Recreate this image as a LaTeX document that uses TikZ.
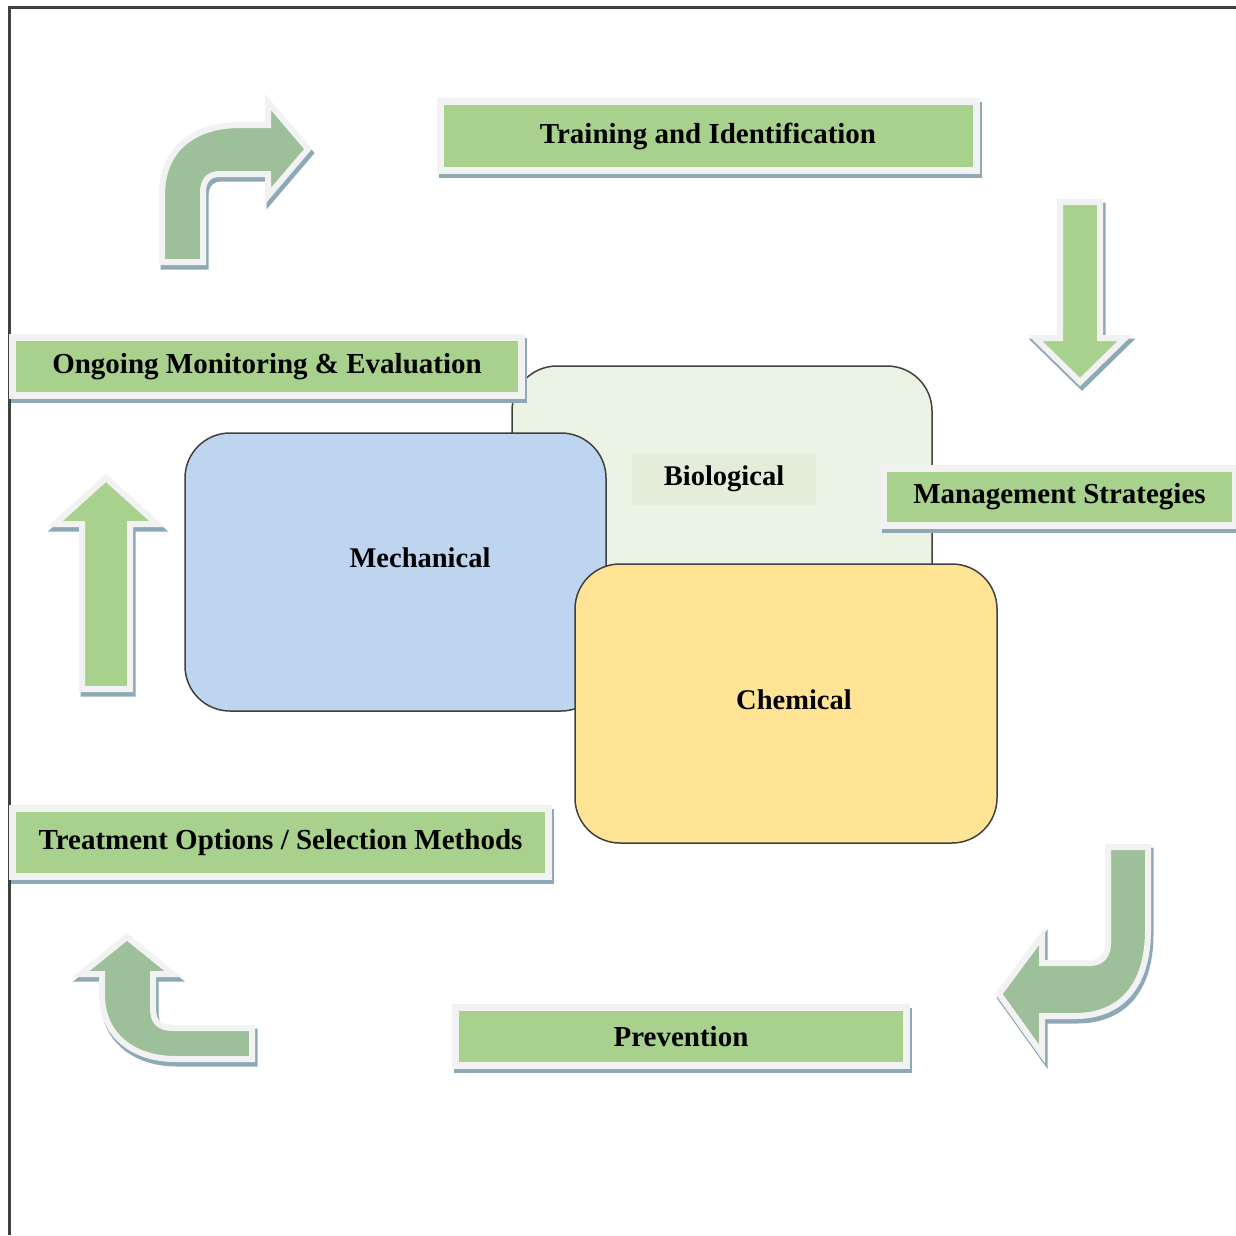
\documentclass[tikz,border=0pt]{standalone}
\usepackage{fontspec}
\setmainfont{Liberation Serif}
\usetikzlibrary{positioning}

\definecolor{boxgreen}{HTML}{A9D18E}
\definecolor{sage}{HTML}{9DBF9A}
\definecolor{rimgray}{HTML}{F2F2F2}
\definecolor{shadowblue}{HTML}{8EA9B6}
\definecolor{biofill}{HTML}{EBF3E4}
\definecolor{biopatch}{HTML}{E3EDD9}
\definecolor{mechfill}{HTML}{BDD5EE}
\definecolor{chemfill}{HTML}{FFE496}
\definecolor{edgegray}{HTML}{404040}

\begin{document}
\begin{tikzpicture}[x=1pt, y=-1pt,
  shade/.style={preaction={draw=shadowblue, fill=shadowblue, line width=7pt,
      transform canvas={shift={(2pt,-4pt)}}}},
  stagebox/.style={shade, draw=rimgray, line width=7pt, fill=boxgreen,
      inner sep=0pt, font=\fontsize{29}{33}\selectfont\bfseries},
  zone/.style={draw=edgegray, line width=1.5pt, rounded corners=45pt, inner sep=0pt},
  zonetext/.style={inner sep=0pt, font=\fontsize{28.5}{33}\selectfont\bfseries},
  blockarrow/.style={shade, draw=rimgray, line width=6pt, line join=miter}]
  \useasboundingbox (0,0) rectangle (1236,1235);
  \draw[edgegray, line width=3pt] (9,1235) -- (9,7) -- (1236,7);

  % the three overlapping areas
  \node[zone, fill=biofill, minimum width=420pt, minimum height=274pt] (bio) at (722,503) {};
  \node[zonetext, fill=biopatch, minimum width=184pt, minimum height=52pt] (biotext) at (724,479) {Biological};
  \node[zone, fill=mechfill, minimum width=421pt, minimum height=278pt] (mech) at (395.5,572) {};
  \node[zonetext] (mechtext) at (420,558) {Mechanical};
  \node[zone, fill=chemfill, minimum width=422pt, minimum height=279pt] (chem) at (786,703.5) {};
  \node[zonetext] (chemtext) at (794,700) {Chemical};

  % cycle stages
  \node[stagebox, minimum width=536pt, minimum height=69pt] (train) at (708,136) {Training and Identification};
  \node[stagebox, minimum width=352pt, minimum height=57pt] (manage) at (1059.5,497) {Management Strategies};
  \node[stagebox, minimum width=451pt, minimum height=58pt] (prevent) at (681,1036.5) {Prevention};
  \node[stagebox, minimum width=536pt, minimum height=68pt] (treat) at (280.5,842.5) {Treatment Options / Selection Methods};
  \node[stagebox, minimum width=509pt, minimum height=58pt] (monitor) at (267,366.5) {Ongoing Monitoring \& Evaluation};

  % block arrows between the stages
  \draw[blockarrow, fill=sage] (162,262) -- (162,195) .. controls (162,148) and (195,125) .. (240,125)
    -- (268,125) -- (268,102) -- (308,149) -- (268,196) -- (268,174) -- (220,174)
    .. controls (208,174) and (203,181) .. (203,193) -- (203,262) -- cycle;
  \draw[blockarrow, fill=boxgreen] (1060,202) -- (1100,202) -- (1100,338) -- (1125,338)
    -- (1080,382) -- (1035,338) -- (1060,338) -- cycle;
  \draw[blockarrow, fill=sage] (1108,847) -- (1148,847) -- (1148,930)
    .. controls (1148,987) and (1120,1016) .. (1075,1016) -- (1042,1016) -- (1042,1054)
    -- (999,994) -- (1042,936) -- (1042,963) -- (1090,963)
    .. controls (1102,963) and (1108,955) .. (1108,943) -- cycle;
  \draw[blockarrow, fill=sage] (127,937) -- (173,974) -- (153,974) -- (153,1008)
    .. controls (153,1022) and (159,1028) .. (173,1028) -- (252,1028) -- (252,1059)
    -- (175,1059) .. controls (133,1059) and (102,1035) .. (102,995) -- (102,974)
    -- (81,974) -- cycle;
  \draw[blockarrow, fill=boxgreen] (82,689) -- (82,524) -- (55,524) -- (106,478)
    -- (157,524) -- (130,524) -- (130,689) -- cycle;
\end{tikzpicture}
\end{document}
